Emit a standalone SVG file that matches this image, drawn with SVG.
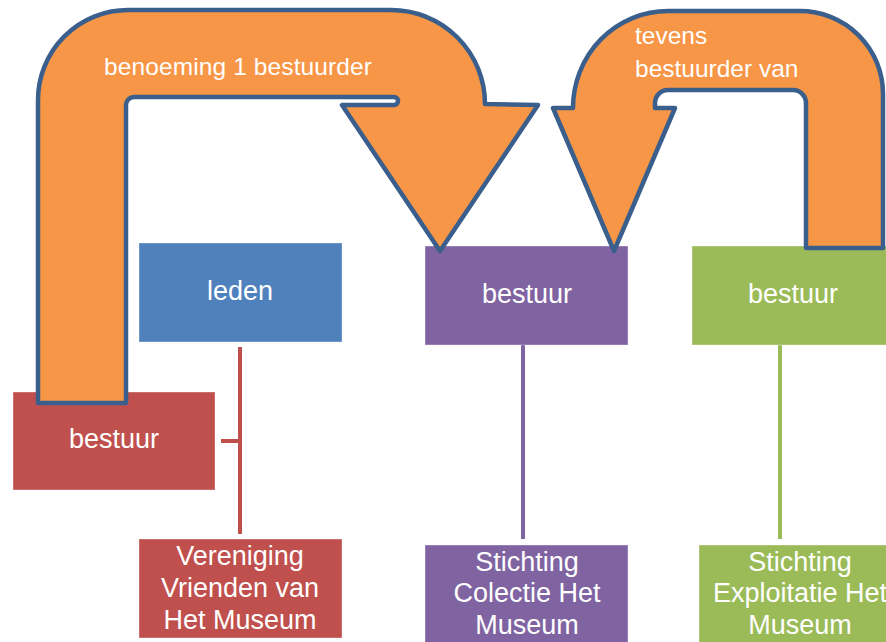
<svg xmlns="http://www.w3.org/2000/svg" width="886" height="642" viewBox="0 0 886 642">
<style>
.lbl{font-family:"Liberation Sans",Arial,sans-serif;font-size:27px;fill:#fff;text-anchor:middle}
.alb{font-family:"Liberation Sans",Arial,sans-serif;font-size:24.5px;fill:#fff}
.arrow{fill:#F79646;stroke:#3B5F8C;stroke-width:4.5;stroke-linejoin:round}
.box{stroke:#fff;stroke-opacity:0.35;stroke-width:1}
.conn{fill:none;stroke-width:4}
</style>
<rect width="886" height="642" fill="#fff"/>
<g id="connectors">
<path class="conn" stroke="#C0504D" d="M240,347 V534 M221,441 H240"/>
<path class="conn" stroke="#8064A2" d="M523,345 V539"/>
<path class="conn" stroke="#9BBB59" d="M780,345 V539"/>
</g>
<g id="leden"><rect class="box" x="139" y="243" width="203" height="99" fill="#4F81BD"/><text class="lbl" x="240" y="300">leden</text></g>
<g id="bestuur-vereniging"><rect class="box" x="13" y="392" width="202" height="98" fill="#C0504D"/><text class="lbl" x="114" y="448">bestuur</text></g>
<g id="vereniging"><rect class="box" x="139" y="539" width="203" height="99" fill="#C0504D"/><text class="lbl" x="240" y="565">Vereniging</text><text class="lbl" x="240" y="597">Vrienden van</text><text class="lbl" x="240" y="629">Het Museum</text></g>
<g id="bestuur-collectie"><rect class="box" x="425" y="246" width="203" height="99" fill="#8064A2"/><text class="lbl" x="527" y="303">bestuur</text></g>
<g id="collectie"><rect class="box" x="425" y="545" width="203" height="100" fill="#8064A2"/><text class="lbl" x="527" y="571">Stichting</text><text class="lbl" x="527" y="602">Colectie Het</text><text class="lbl" x="527" y="634">Museum</text></g>
<g id="bestuur-exploitatie"><rect class="box" x="692" y="246" width="203" height="99" fill="#9BBB59"/><text class="lbl" x="793" y="303">bestuur</text></g>
<g id="exploitatie"><rect class="box" x="699" y="545" width="203" height="100" fill="#9BBB59"/><text class="lbl" x="800" y="571">Stichting</text><text class="lbl" x="800" y="602">Exploitatie Het</text><text class="lbl" x="800" y="634">Museum</text></g>
<g id="arrow-benoeming">
<path class="arrow" d="M38,403 V100 A90,90 0 0 1 128,10 H391 A94,94 0 0 1 485,104 L538,105 L440,251 L342,105 L394,105 A4,4 0 0 0 394,97 H134 A8,8 0 0 0 126,105 V403 Z"/>
<text class="alb" x="104" y="75" textLength="268" lengthAdjust="spacing">benoeming 1 bestuurder</text>
</g>
<g id="arrow-tevens">
<path class="arrow" d="M553,108 L573,108 A95,97 0 0 1 668,11 H800 A83,83 0 0 1 883,94 V248 H806 V103 A13,13 0 0 0 793,90 H668 A13,13 0 0 0 655,103 V108 L675,108 L614,251 Z"/>
<text class="alb" x="635" y="44">tevens</text>
<text class="alb" x="635" y="77">bestuurder van</text>
</g>
</svg>
